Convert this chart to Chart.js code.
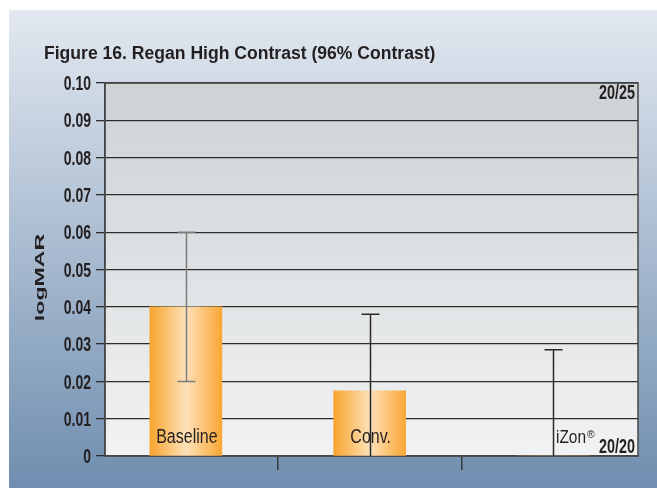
<!DOCTYPE html>
<html>
<head>
<meta charset="utf-8">
<script src="https://cdn.jsdelivr.net/npm/chart.js@4/dist/chart.umd.min.js"></script>
<style>
  html, body { margin: 0; padding: 0; background: #ffffff; }
  #wrap { width: 657px; height: 488px; }
</style>
</head>
<body>
<div id="wrap"><canvas id="c" width="657" height="488"></canvas></div>
<script>
// ---- data ----
const categories = ['Baseline', 'Conv.', 'iZon®'];
const categoryIndex = [0, 1, 2];
const categoryBoundaries = [0.5, 1.5];
const logmarValues = [0.040, 0.0175, 0.0];
const errorUp = [0.020, 0.0205, 0.0285];
const errorDown = [0.020, 0.0205, 0.0285];
const xRangeMin = -0.44;
const xRangeMax = 2.46;
const yTickMin = 0;
const yTickMax = 0.10;
const yTickStep = 0.01;
const snellenValues = [0.10, 0.0];
const snellenLabels = ['20/25', '20/20'];
const titleText = 'Figure 16. Regan High Contrast (96% Contrast)';
const yAxisTitle = 'logMAR';

// ---- styles ----
const FAM = "'Liberation Sans', Arial, Helvetica, sans-serif";
const BAR_W = 72;
const TEXT_COLOR = '#231f20';
const errColors = ['#7c7c7c', '#2a2a2a', '#2a2a2a'];

function fmtTick(v) {
  return Math.abs(v) < 1e-9 ? '0' : Number(v).toFixed(2);
}

function narrowText(ctx, text, x, y, font, sx, align) {
  ctx.save();
  ctx.translate(x, y);
  ctx.scale(sx, 1);
  ctx.font = font;
  ctx.textAlign = align;
  ctx.textBaseline = 'alphabetic';
  ctx.fillStyle = TEXT_COLOR;
  ctx.fillText(text, 0, 0);
  const w = ctx.measureText(text).width * sx;
  ctx.restore();
  return w;
}

const backgroundPlugin = {
  id: 'bgPanel',
  beforeDraw(chart) {
    const ctx = chart.ctx, a = chart.chartArea;
    ctx.save();
    ctx.fillStyle = '#ffffff';
    ctx.fillRect(0, 0, chart.width, chart.height);
    const g = ctx.createLinearGradient(0, 10, 0, chart.height);
    g.addColorStop(0, '#e2e8f0');
    g.addColorStop(0.5, '#a9bbd0');
    g.addColorStop(1, '#6f8eaf');
    ctx.fillStyle = g;
    ctx.fillRect(9, 10, chart.width - 9, chart.height - 10);
    const pg = ctx.createLinearGradient(0, a.top, 0, a.bottom);
    pg.addColorStop(0, '#cdd2d5');
    pg.addColorStop(1, '#f1f2f3');
    ctx.fillStyle = pg;
    ctx.fillRect(a.left, a.top, a.right - a.left, a.bottom - a.top);
    ctx.restore();
  },
  beforeDatasetsDraw(chart) {
    const ctx = chart.ctx, a = chart.chartArea;
    ctx.save();
    ctx.strokeStyle = '#474747';
    ctx.lineWidth = 1.5;
    ctx.strokeRect(a.left, a.top, a.right - a.left, a.bottom - a.top);
    ctx.restore();
  },
  afterDatasetsDraw(chart) {
    const ctx = chart.ctx, a = chart.chartArea;
    const xs = chart.scales.x, ys = chart.scales.y;
    ctx.save();
    // title
    narrowText(ctx, titleText, 44, 58.7, 'bold 18.7px ' + FAM, 0.94, 'left');
    // y tick labels
    ys.ticks.forEach((t, i) => {
      const y = ys.getPixelForTick(i);
      narrowText(ctx, fmtTick(t.value), a.left - 14, y + 7.1, 'bold 20px ' + FAM, 0.70, 'right');
    });
    // error bars
    categoryIndex.forEach((ci, i) => {
      const cx = Math.round(xs.getPixelForValue(ci)) + 0.5;
      const top = ys.getPixelForValue(logmarValues[i] + errorUp[i]);
      const botVal = logmarValues[i] - errorDown[i];
      const bot = ys.getPixelForValue(Math.max(botVal, yTickMin));
      ctx.strokeStyle = errColors[i];
      ctx.lineWidth = 1.5;
      ctx.beginPath();
      ctx.moveTo(cx, top); ctx.lineTo(cx, bot);
      ctx.moveTo(cx - 9, top); ctx.lineTo(cx + 9, top);
      if (botVal > yTickMin) { ctx.moveTo(cx - 9, bot); ctx.lineTo(cx + 9, bot); }
      ctx.stroke();
    });
    // category labels inside bars
    const yBase = ys.getPixelForValue(yTickMin);
    categories.forEach((cat, i) => {
      const cx = xs.getPixelForValue(categoryIndex[i]);
      if (logmarValues[i] > 0) {
        narrowText(ctx, cat, cx + 1, yBase - 12.7, '20px ' + FAM, 0.80, 'center');
      } else {
        let base = cat, sup = '';
        if (cat.endsWith('®')) { base = cat.slice(0, -1); sup = '®'; }
        const x0 = cx + 2.5;
        const w = narrowText(ctx, base, x0, yBase - 13.3, '18px ' + FAM, 0.86, 'left');
        if (sup) narrowText(ctx, sup, x0 + w + 1, yBase - 18.5, '11px ' + FAM, 0.95, 'left');
      }
    });
    // Snellen equivalents
    snellenValues.forEach((v, i) => {
      const y = ys.getPixelForValue(v);
      const yy = (v >= yTickMax) ? y + 16.3 : y - 2.7;
      narrowText(ctx, snellenLabels[i], a.right - 3, yy, 'bold 20px ' + FAM, 0.72, 'right');
    });
    // y-axis title (rotated)
    ctx.save();
    ctx.translate(44, (a.top + a.bottom) / 2 + 8);
    ctx.rotate(-Math.PI / 2);
    ctx.scale(1.7, 1);
    ctx.font = 'bold 13.6px ' + FAM;
    ctx.textAlign = 'center';
    ctx.textBaseline = 'alphabetic';
    ctx.fillStyle = TEXT_COLOR;
    ctx.fillText(yAxisTitle, 0, 0);
    ctx.restore();
    ctx.restore();
  }
};

new Chart(document.getElementById('c'), {
  type: 'bar',
  data: {
    datasets: [{
      label: 'logMAR',
      data: categoryIndex.map((ci, i) => ({ x: ci, y: logmarValues[i] })),
      barThickness: BAR_W,
      borderWidth: 0,
      backgroundColor: (c) => {
        const chart = c.chart;
        if (!chart.chartArea || !chart.scales.x) return '#f9a93a';
        const cx = chart.scales.x.getPixelForValue(categoryIndex[c.dataIndex]);
        const g = chart.ctx.createLinearGradient(cx - BAR_W / 2, 0, cx + BAR_W / 2, 0);
        g.addColorStop(0, '#f8a42e');
        g.addColorStop(0.5, '#fee1b9');
        g.addColorStop(1, '#f9a735');
        return g;
      }
    }]
  },
  options: {
    responsive: false,
    animation: false,
    devicePixelRatio: 1,
    layout: { padding: { left: 0, right: 19, top: 83, bottom: 0 } },
    plugins: {
      legend: { display: false },
      tooltip: { enabled: false },
      title: { display: false }
    },
    scales: {
      x: {
        type: 'linear',
        min: xRangeMin,
        max: xRangeMax,
        offset: false,
        bounds: 'data',
        afterBuildTicks: (s) => { s.ticks = categoryBoundaries.map(v => ({ value: v })); },
        grid: {
          display: true,
          offset: false,
          drawOnChartArea: false,
          drawTicks: true,
          tickLength: 14,
          lineWidth: 1.5,
          color: '#3a3a3a'
        },
        border: { display: true, color: '#474747', width: 1.5 },
        ticks: { display: false },
        afterFit: (s) => { s.height = 32; }
      },
      y: {
        min: yTickMin,
        max: yTickMax,
        grid: { color: '#2c2c2c', lineWidth: 1.3, tickLength: 9 },
        border: { display: true, color: '#474747', width: 1.5 },
        ticks: { display: false, stepSize: yTickStep, callback: fmtTick },
        afterFit: (s) => { s.width = 105; }
      }
    }
  },
  plugins: [backgroundPlugin]
});
</script>
</body>
</html>
